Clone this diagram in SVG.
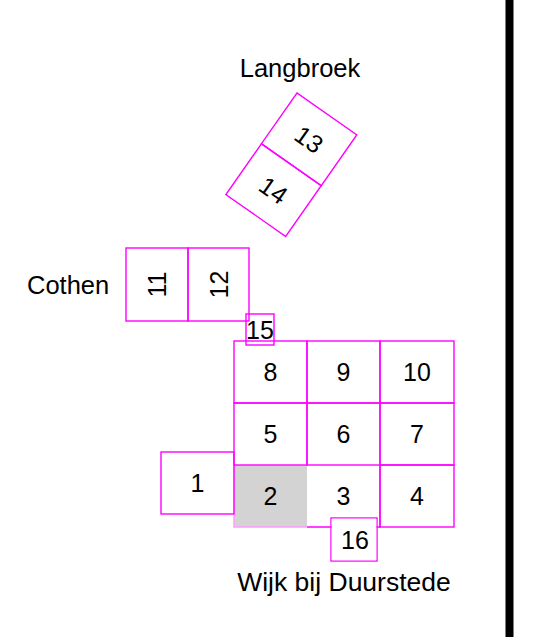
<svg xmlns="http://www.w3.org/2000/svg" width="540" height="637" viewBox="0 0 540 637">
<style>
.c{fill:none;stroke:#ff00ff;stroke-width:1.4}
.t{font-family:"Liberation Sans",Arial,sans-serif;font-size:25px;fill:#000;text-anchor:middle}
.l{font-family:"Liberation Sans",Arial,sans-serif;font-size:25.5px;fill:#000}
</style>
<rect width="540" height="637" fill="#fff"/>
<rect x="505.5" y="0" width="8" height="637" fill="#000"/>
<text class="l" x="300" y="77" text-anchor="middle">Langbroek</text>
<text class="l" x="27" y="294">Cothen</text>
<text class="l" x="344" y="591" text-anchor="middle" style="font-size:26.5px">Wijk bij Duurstede</text>
<g id="n13" transform="translate(297,93) rotate(35)">
<rect class="c" x="0" y="0" width="73" height="62"/>
<text class="t" x="36.5" y="40">13</text>
</g>
<g id="n14" transform="translate(297,93) rotate(35)">
<rect class="c" x="0" y="62" width="73" height="62"/>
<text class="t" x="36.5" y="102">14</text>
</g>
<g id="n11"><rect class="c" x="126" y="248" width="62" height="73"/><text class="t" transform="translate(157,284.5) rotate(-90)" y="9">11</text></g>
<g id="n12"><rect class="c" x="188" y="248" width="61" height="73"/><text class="t" transform="translate(218.5,284.5) rotate(-90)" y="9">12</text></g>
<g id="n2"><rect x="234" y="465" width="73" height="62" fill="#d3d3d3"/><path d="M234 465V527H307" fill="none" stroke="#ff99ff" stroke-width="1.4"/><text class="t" x="270.5" y="505">2</text></g>
<g id="n1"><rect class="c" x="161" y="452" width="73" height="62"/><text class="t" x="197.5" y="492">1</text></g>
<g id="n8"><rect class="c" x="234" y="341" width="73" height="62"/><text class="t" x="270.5" y="381">8</text></g>
<g id="n9"><rect class="c" x="307" y="341" width="73" height="62"/><text class="t" x="343.5" y="381">9</text></g>
<g id="n10"><rect class="c" x="380" y="341" width="74" height="62"/><text class="t" x="417" y="381">10</text></g>
<g id="n5"><rect class="c" x="234" y="403" width="73" height="62"/><text class="t" x="270.5" y="443">5</text></g>
<g id="n6"><rect class="c" x="307" y="403" width="73" height="62"/><text class="t" x="343.5" y="443">6</text></g>
<g id="n7"><rect class="c" x="380" y="403" width="74" height="62"/><text class="t" x="417" y="443">7</text></g>
<g id="n3"><path class="c" d="M307 527H380V465"/><text class="t" x="343.5" y="505">3</text></g>
<g id="n4"><rect class="c" x="380" y="465" width="74" height="62"/><text class="t" x="417" y="505">4</text></g>
<g id="n15"><rect class="c" x="246" y="314" width="28" height="31"/><text class="t" x="260" y="339">15</text></g>
<g id="n16"><rect class="c" x="331" y="518" width="46" height="43"/><rect x="331.7" y="518.7" width="44.6" height="41.6" fill="#fff"/><text class="t" x="355" y="549">16</text></g>
<g id="connectors"/>
</svg>
